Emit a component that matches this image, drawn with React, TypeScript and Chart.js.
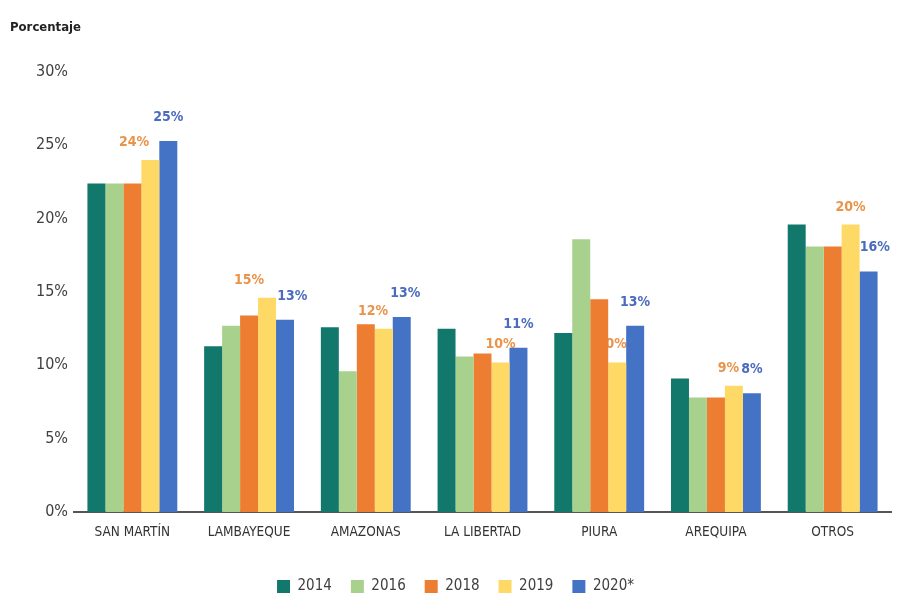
import React, { useEffect, useRef } from "react";
import { Chart, registerables } from "chart.js";

Chart.register(...registerables);

const categories = ["SAN MARTÍN", "LAMBAYEQUE", "AMAZONAS", "LA LIBERTAD", "PIURA", "AREQUIPA", "OTROS"];
const seriesNames = ["2014", "2016", "2018", "2019", "2020*"];
const v2014 = [22.4, 11.3, 12.6, 12.5, 12.2, 9.1, 19.6];
const v2016 = [22.4, 12.7, 9.6, 10.6, 18.6, 7.8, 18.1];
const v2018 = [22.4, 13.4, 12.8, 10.8, 14.5, 7.8, 18.1];
const v2019 = [24.0, 14.6, 12.5, 10.2, 10.2, 8.6, 19.6];
const v2020 = [25.3, 13.1, 13.3, 11.2, 12.7, 8.1, 16.4];
const labels2019 = ["24%", "15%", "12%", "10%", "10%", "9%", "20%"];
const labels2020 = ["25%", "13%", "13%", "11%", "13%", "8%", "16%"];
const yTicks = [0, 5, 10, 15, 20, 25, 30];

// label placement nudges (in bar widths), styling only
const nudge2019 = [-0.9, -1.0, -0.6, 0, -0.3, -0.3, 0];
const nudge2020 = [0, 0.4, 0.2, 0, 0, 0, 0.35];

const colors = ["#11786B", "#A9D18E", "#ED7D31", "#FFD966", "#4472C4"];
const FONT = "'Liberation Sans Narrow', 'DejaVu Sans Condensed', sans-serif";

const labelPlugin = {
  id: "valueLabels",
  beforeDatasetsDraw(chart: any) {
    const ctx = chart.ctx;
    ctx.save();
    ctx.font = `bold 14px ${FONT}`;
    ctx.textAlign = "center";
    ctx.textBaseline = "alphabetic";
    const sets: [number, string[], string, number[], number][] = [
      [3, labels2019, "#E9944A", nudge2019, 14],
      [4, labels2020, "#4A6CBE", nudge2020, 20],
    ];
    for (const [idx, labs, col, nudge, gap] of sets) {
      const meta = chart.getDatasetMeta(idx);
      ctx.fillStyle = col;
      meta.data.forEach((bar: any, i: number) => {
        ctx.fillText(labs[i], bar.x + nudge[i] * bar.width, bar.y - gap);
      });
    }
    ctx.restore();
  },
  afterDraw(chart: any) {
    const ctx = chart.ctx;
    ctx.save();
    ctx.font = `bold 13px ${FONT}`;
    ctx.fillStyle = "#222";
    ctx.textAlign = "left";
    ctx.textBaseline = "middle";
    ctx.fillText("Porcentaje", 10, 28);
    ctx.restore();
  },
};

export default function App() {
  const ref = useRef<HTMLCanvasElement>(null);
  useEffect(() => {
    if (!ref.current) return;
    const values = [v2014, v2016, v2018, v2019, v2020];
    const chart = new Chart(ref.current, {
      type: "bar",
      data: {
        labels: categories,
        datasets: seriesNames.map((n, i) => ({
          label: n,
          data: values[i],
          backgroundColor: colors[i],
          borderWidth: 0,
          categoryPercentage: 0.77,
          barPercentage: 1.0,
        })),
      },
      options: {
        animation: false,
        responsive: false,
        maintainAspectRatio: false,
        layout: { padding: { top: 72, left: 20, right: 10, bottom: -10 } },
        plugins: {
          tooltip: { enabled: false },
          title: { display: false },
          legend: {
            position: "bottom",
            labels: {
              boxWidth: 13,
              boxHeight: 13,
              padding: 19,
              color: "#404040",
              font: { family: FONT, size: 15 },
            },
          },
        },
        scales: {
          x: {
            grid: { display: false, drawTicks: false },
            border: { display: true, color: "#555", width: 2 },
            ticks: { color: "#333", font: { family: FONT, size: 13.5 }, padding: 12, maxRotation: 0 },
            afterFit: (s: any) => { s.height = 48; },
          },
          y: {
            min: 0,
            max: 30,
            afterBuildTicks: (s: any) => { s.ticks = yTicks.map((v) => ({ value: v })); },
            grid: { display: false, drawTicks: false },
            border: { display: false },
            ticks: {
              color: "#404040",
              font: { family: FONT, size: 16 },
              padding: 6,
              callback: (v: any) => `${v}%`,
            },
            afterFit: (s: any) => { s.width = 54; },
          },
        },
      },
      plugins: [labelPlugin],
    });
    return () => chart.destroy();
  }, []);
  return (
    <div style={{ position: "fixed", left: 0, top: 0, width: 901, height: 594, background: "#fff" }}>
      <canvas ref={ref} width={901} height={594} />
    </div>
  );
}
